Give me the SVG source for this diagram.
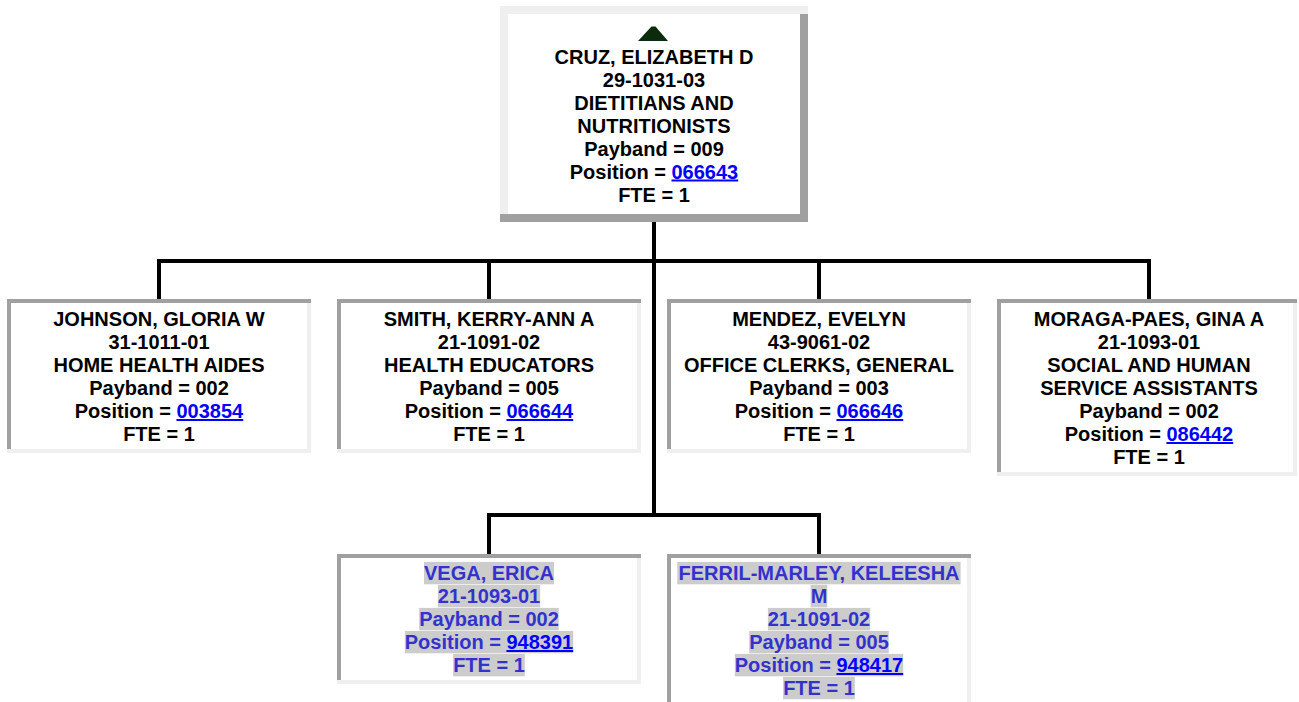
<svg xmlns="http://www.w3.org/2000/svg" width="1299" height="702" viewBox="0 0 1299 702">
<style>
.t{font-family:"Liberation Sans",Arial,Helvetica,sans-serif;font-weight:bold;font-size:20px;text-anchor:middle;fill:#000}
.v{fill:#3333cc}
.lk{fill:#0000ff;text-decoration:underline}
.hl{fill:#cccccc}
.lt{fill:#efefef}
.dk{fill:#a0a0a0}
.wh{fill:#ffffff}
.c{fill:none;stroke:#000;stroke-width:4;stroke-linejoin:miter;stroke-linecap:square}
</style>
<rect width="1299" height="702" fill="#ffffff"/>
<g id="connectors">
<path class="c" d="M654 222V515"/>
<path class="c" d="M159 299V261H1149V299"/>
<path class="c" d="M489 261V299"/>
<path class="c" d="M819 261V299"/>
<path class="c" d="M489 554V515H819V554"/>
</g>
<g id="node-cruz">
<rect class="dk" x="500" y="6" width="308" height="216"/>
<rect class="lt" x="500" y="6" width="308" height="8"/>
<rect class="lt" x="500" y="14" width="8" height="200"/>
<rect class="wh" x="508" y="14" width="292" height="200"/>
<polygon points="638,41 651.5,26.5 655.5,26.5 668,41" fill="#0c2a0c"/>
<text class="t" x="654" y="63.5">CRUZ, ELIZABETH D</text>
<text class="t" x="654" y="86.5">29-1031-03</text>
<text class="t" x="654" y="109.5">DIETITIANS AND</text>
<text class="t" x="654" y="132.5">NUTRITIONISTS</text>
<text class="t" x="654" y="155.5">Payband = 009</text>
<text class="t" x="654" y="178.5">Position = <tspan class="lk">066643</tspan></text>
<text class="t" x="654" y="201.5">FTE = 1</text>
</g>
<g id="node-johnson">
<rect class="lt" x="7" y="299" width="304" height="154"/>
<rect class="dk" x="7" y="299" width="304" height="4"/>
<rect class="dk" x="7" y="303" width="4" height="146"/>
<rect class="wh" x="11" y="303" width="296" height="146"/>
<text class="t" x="159" y="326">JOHNSON, GLORIA W</text>
<text class="t" x="159" y="349">31-1011-01</text>
<text class="t" x="159" y="372">HOME HEALTH AIDES</text>
<text class="t" x="159" y="395">Payband = 002</text>
<text class="t" x="159" y="418">Position = <tspan class="lk">003854</tspan></text>
<text class="t" x="159" y="441">FTE = 1</text>
</g>
<g id="node-smith">
<rect class="lt" x="337" y="299" width="304" height="154"/>
<rect class="dk" x="337" y="299" width="304" height="4"/>
<rect class="dk" x="337" y="303" width="4" height="146"/>
<rect class="wh" x="341" y="303" width="296" height="146"/>
<text class="t" x="489" y="326">SMITH, KERRY-ANN A</text>
<text class="t" x="489" y="349">21-1091-02</text>
<text class="t" x="489" y="372">HEALTH EDUCATORS</text>
<text class="t" x="489" y="395">Payband = 005</text>
<text class="t" x="489" y="418">Position = <tspan class="lk">066644</tspan></text>
<text class="t" x="489" y="441">FTE = 1</text>
</g>
<g id="node-mendez">
<rect class="lt" x="667" y="299" width="304" height="154"/>
<rect class="dk" x="667" y="299" width="304" height="4"/>
<rect class="dk" x="667" y="303" width="4" height="146"/>
<rect class="wh" x="671" y="303" width="296" height="146"/>
<text class="t" x="819" y="326">MENDEZ, EVELYN</text>
<text class="t" x="819" y="349">43-9061-02</text>
<text class="t" x="819" y="372">OFFICE CLERKS, GENERAL</text>
<text class="t" x="819" y="395">Payband = 003</text>
<text class="t" x="819" y="418">Position = <tspan class="lk">066646</tspan></text>
<text class="t" x="819" y="441">FTE = 1</text>
</g>
<g id="node-moraga">
<rect class="lt" x="997" y="299" width="300" height="177"/>
<rect class="dk" x="997" y="299" width="300" height="4"/>
<rect class="dk" x="997" y="303" width="4" height="169"/>
<rect class="wh" x="1001" y="303" width="292" height="169"/>
<text class="t" x="1149" y="326">MORAGA-PAES, GINA A</text>
<text class="t" x="1149" y="349">21-1093-01</text>
<text class="t" x="1149" y="372">SOCIAL AND HUMAN</text>
<text class="t" x="1149" y="395">SERVICE ASSISTANTS</text>
<text class="t" x="1149" y="418">Payband = 002</text>
<text class="t" x="1149" y="441">Position = <tspan class="lk">086442</tspan></text>
<text class="t" x="1149" y="464">FTE = 1</text>
</g>
<g id="node-vega">
<rect class="lt" x="337" y="554" width="304" height="130"/>
<rect class="dk" x="337" y="554" width="304" height="4"/>
<rect class="dk" x="337" y="558" width="4" height="122"/>
<rect class="wh" x="341" y="558" width="296" height="122"/>
<rect class="hl" x="424" y="561.9" width="130" height="22.4"/>
<rect class="hl" x="437.9" y="584.9" width="102.3" height="22.4"/>
<rect class="hl" x="419.2" y="607.9" width="139.5" height="22.4"/>
<rect class="hl" x="404.8" y="630.9" width="168.4" height="22.4"/>
<rect class="hl" x="453.1" y="653.9" width="71.7" height="22.4"/>
<text class="t v" x="489" y="580">VEGA, ERICA</text>
<text class="t v" x="489" y="603">21-1093-01</text>
<text class="t v" x="489" y="626">Payband = 002</text>
<text class="t v" x="489" y="649">Position = <tspan class="lk">948391</tspan></text>
<text class="t v" x="489" y="672">FTE = 1</text>
</g>
<g id="node-ferril">
<rect class="lt" x="667" y="554" width="304" height="170"/>
<rect class="dk" x="667" y="554" width="304" height="4"/>
<rect class="dk" x="667" y="558" width="4" height="162"/>
<rect class="wh" x="671" y="558" width="296" height="162"/>
<rect class="hl" x="677.3" y="561.9" width="283.3" height="22.4"/>
<rect class="hl" x="810.6" y="584.9" width="16.7" height="22.4"/>
<rect class="hl" x="767.9" y="607.9" width="102.3" height="22.4"/>
<rect class="hl" x="749.2" y="630.9" width="139.5" height="22.4"/>
<rect class="hl" x="734.8" y="653.9" width="168.4" height="22.4"/>
<rect class="hl" x="783.1" y="676.9" width="71.7" height="22.4"/>
<text class="t v" x="819" y="580">FERRIL-MARLEY, KELEESHA</text>
<text class="t v" x="819" y="603">M</text>
<text class="t v" x="819" y="626">21-1091-02</text>
<text class="t v" x="819" y="649">Payband = 005</text>
<text class="t v" x="819" y="672">Position = <tspan class="lk">948417</tspan></text>
<text class="t v" x="819" y="695">FTE = 1</text>
</g>
</svg>
